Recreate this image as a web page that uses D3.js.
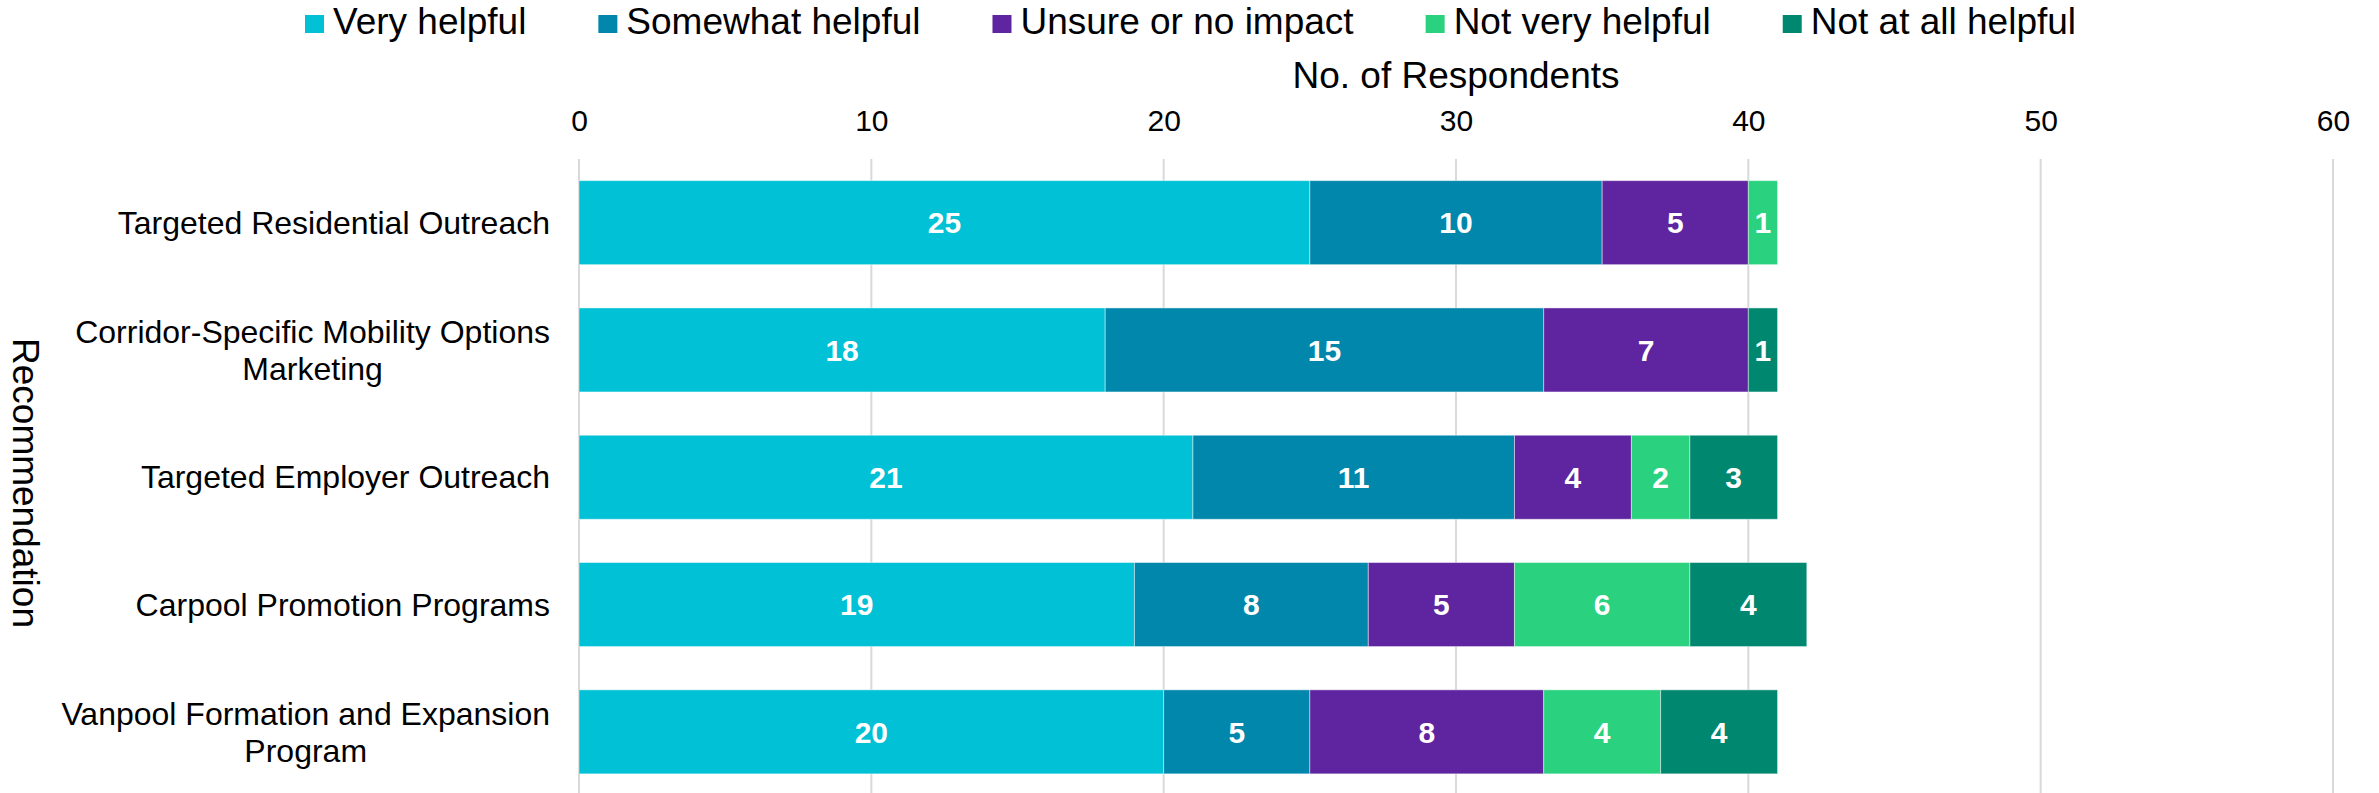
<!DOCTYPE html>
<html>
<head>
<meta charset="utf-8">
<script src="https://cdn.jsdelivr.net/npm/d3@7"></script>
<style>
  html, body { margin: 0; padding: 0; background: #ffffff; }
  svg { display: block; font-family: "Liberation Sans", Arial, sans-serif; }
</style>
</head>
<body>
<svg id="chart" width="2379" height="793"></svg>
<script>
// Survey responses per recommendation, stacked by rating
const categories = [
  "Targeted Residential Outreach",
  "Corridor-Specific Mobility Options Marketing",
  "Targeted Employer Outreach",
  "Carpool Promotion Programs",
  "Vanpool Formation and Expansion Program"
];
const seriesNames = ["Very helpful", "Somewhat helpful", "Unsure or no impact", "Not very helpful", "Not at all helpful"];
const veryHelpful     = [25, 18, 21, 19, 20];
const somewhatHelpful = [10, 15, 11, 8, 5];
const unsure          = [5, 7, 4, 5, 8];
const notVeryHelpful  = [1, 0, 2, 6, 4];
const notAtAllHelpful = [0, 1, 3, 4, 4];
const xTicks = [0, 10, 20, 30, 40, 50, 60];
const colors = ["#00c1d5", "#0087ab", "#5f249f", "#2ad17e", "#00876f"];

const seriesValues = [veryHelpful, somewhatHelpful, unsure, notVeryHelpful, notAtAllHelpful];
const rows = categories.map((c, i) => {
  const r = { category: c };
  seriesNames.forEach((s, j) => { r[s] = seriesValues[j][i]; });
  return r;
});
const stacked = d3.stack().keys(seriesNames)(rows);

const svg = d3.select("#chart");
const plotLeft = 579, plotRight = 2333, plotTop = 159, plotBottom = 795.5;

const x = d3.scaleLinear().domain([0, 60]).range([plotLeft, plotRight]);
const y = d3.scaleBand().domain(categories).range([plotTop, plotBottom])
  .paddingInner(0.34).paddingOuter(0.17);
const color = d3.scaleOrdinal().domain(seriesNames).range(colors);

// Vertical gridlines
svg.append("g").selectAll("line").data(xTicks).join("line")
  .attr("x1", d => x(d)).attr("x2", d => x(d))
  .attr("y1", plotTop).attr("y2", 793)
  .attr("stroke", "#d9d9d9").attr("stroke-width", 2);

// Top tick labels
const xAxis = svg.append("g").attr("transform", `translate(0,${plotTop})`)
  .call(d3.axisTop(x).tickValues(xTicks).tickSize(0).tickPadding(28).tickFormat(d3.format("d")));
xAxis.select(".domain").remove();
xAxis.selectAll("text").attr("font-size", 30).attr("fill", "#000")
  .attr("font-family", "Liberation Sans, Arial, sans-serif");

// Axis titles
svg.append("text").attr("x", (plotLeft + plotRight) / 2).attr("y", 88)
  .attr("text-anchor", "middle").attr("font-size", 37).attr("fill", "#000")
  .text("No. of Respondents");
svg.append("text").attr("transform", `translate(13,483) rotate(90)`)
  .attr("text-anchor", "middle").attr("font-size", 37).attr("fill", "#000")
  .text("Recommendation");

// Stacked bars
const groups = svg.append("g").selectAll("g").data(stacked).join("g")
  .attr("fill", d => color(d.key));
groups.selectAll("rect").data(d => d.filter(p => p[1] > p[0])).join("rect")
  .attr("x", d => x(d[0]))
  .attr("y", d => y(d.data.category))
  .attr("width", d => x(d[1]) - x(d[0]))
  .attr("height", y.bandwidth())
  .attr("stroke", "#ffffff").attr("stroke-opacity", 0.45).attr("stroke-width", 1);

// Value labels
groups.selectAll("text").data(d => d.filter(p => p[1] > p[0])).join("text")
  .attr("x", d => (x(d[0]) + x(d[1])) / 2)
  .attr("y", d => y(d.data.category) + y.bandwidth() / 2)
  .attr("dy", "0.36em")
  .attr("text-anchor", "middle").attr("font-size", 30).attr("font-weight", "bold")
  .attr("fill", "#ffffff")
  .text(d => d[1] - d[0]);

// Category labels, wrapped and right-aligned as a block
const labelRight = 550, maxLabelWidth = 500, lineHeight = 37;
const measure = svg.append("text").attr("font-size", 32).attr("visibility", "hidden");
function textWidth(s) { measure.text(s); return measure.node().getComputedTextLength(); }
categories.forEach(c => {
  const words = c.split(" ");
  const lines = [];
  let cur = "";
  words.forEach(w => {
    const test = cur ? cur + " " + w : w;
    if (cur && textWidth(test) > maxLabelWidth) { lines.push(cur); cur = w; } else { cur = test; }
  });
  lines.push(cur);
  const widest = d3.max(lines, textWidth);
  const cy = y(c) + y.bandwidth() / 2;
  const t = svg.append("text").attr("font-size", 32).attr("fill", "#000")
    .attr("text-anchor", "middle");
  lines.forEach((ln, i) => {
    t.append("tspan").attr("x", labelRight - widest / 2)
      .attr("y", cy + (i - (lines.length - 1) / 2) * lineHeight)
      .attr("dy", "0.35em").text(ln);
  });
});
measure.remove();

// Legend
const legend = svg.append("g");
let lx = 305;
seriesNames.forEach((s, i) => {
  legend.append("rect").attr("x", lx).attr("y", 15).attr("width", 19).attr("height", 18)
    .attr("fill", colors[i]);
  const t = legend.append("text").attr("x", lx + 28).attr("y", 34)
    .attr("font-size", 37).attr("fill", "#000").text(s);
  lx += 28 + t.node().getComputedTextLength() + 72;
});
</script>
</body>
</html>
